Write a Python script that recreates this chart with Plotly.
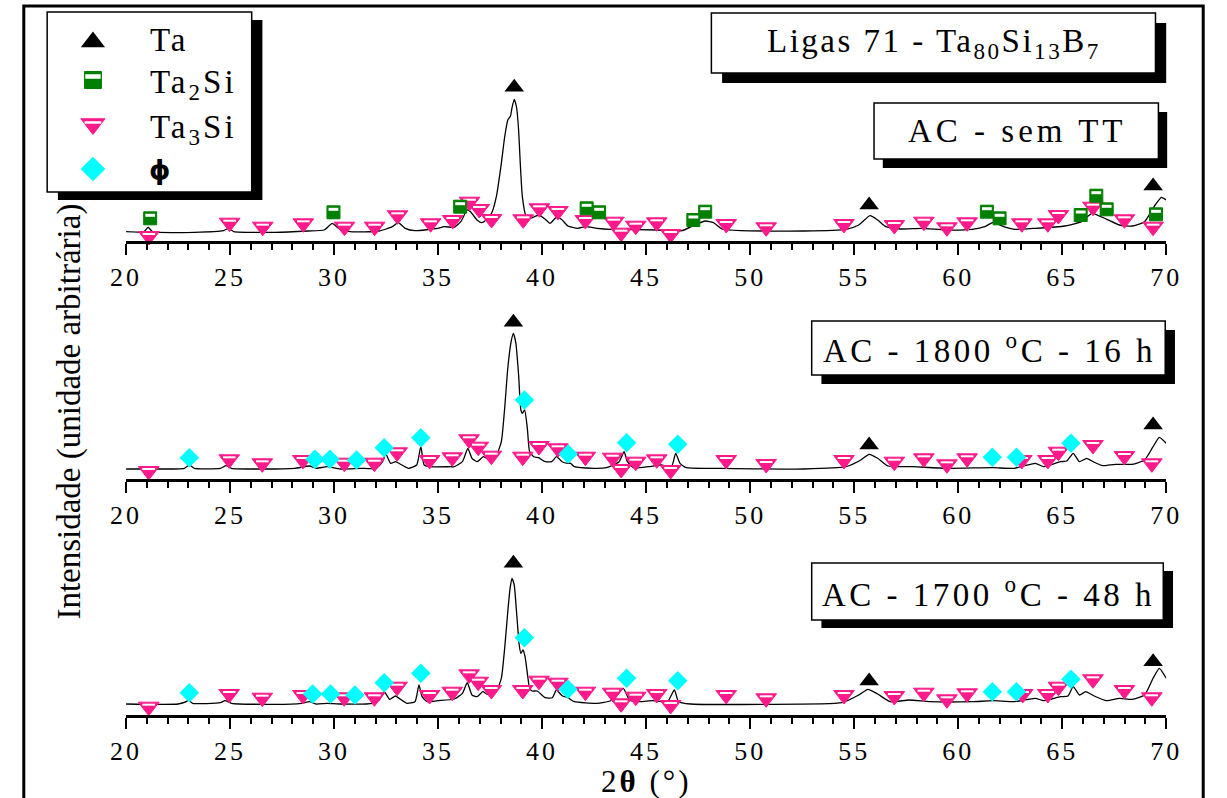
import plotly.graph_objects as go

W, H = 1227, 798

# ---------------- data (2theta in degrees, intensity in arbitrary units) ----------------
x_semTT = [20.0, 20.86, 21.06, 21.28, 23.28, 24.68, 24.92, 25.18, 27.18, 28.74, 29.52, 29.91, 30.22, 30.77,
           32.17, 32.8, 33.08, 33.42, 33.89, 34.98, 35.29, 35.78, 36.09, 36.4, 36.56, 36.87, 37.1, 37.34,
           37.57, 37.8, 38.04, 38.2, 38.35, 38.48, 38.55, 38.66, 38.77, 38.87, 38.95, 39.05, 39.21, 39.44,
           39.84, 40.15, 40.38, 40.69, 40.93, 41.24, 41.71, 42.08, 42.64, 43.27, 43.7, 45.51, 46.73, 47.33,
           47.84, 48.24, 48.65, 49.56, 52.59, 54.61, 55.22, 55.76, 56.13, 56.53, 57.24, 58.25, 59.46, 60.67,
           61.28, 61.68, 62.19, 62.7, 63.71, 65.12, 65.93, 66.44, 67.14, 67.75, 68.36, 68.96, 69.47, 69.77, 70.0]
y_semTT = [9.3, 9.3, 13.7, 9.3, 8.7, 10.3, 12.7, 9.3, 8.7, 10, 11, 17.7, 12.7, 9.3,
           10, 14.3, 18.3, 12.7, 10.3, 12.7, 14.3, 13.7, 19.3, 31, 29.3, 21, 18.3, 21.7,
           27.7, 44.3, 77.7, 104, 121, 125, 133, 141.7, 134, 111, 77.7, 44.3, 26, 22.7,
           26, 21.7, 17.7, 23.7, 21.7, 15, 12.7, 14.3, 12.7, 11.7, 11.7, 11, 10.3, 16,
           20, 18.3, 12, 10.3, 10, 11.7, 16, 25.3, 21, 14.3, 12, 12.7, 11, 11.7,
           14.3, 18.7, 14.3, 11.7, 12.7, 15, 19.3, 27.7, 21.7, 16, 15, 19.3, 36, 43.7, 41]

x_1800 = [20.0, 21.1, 22.8, 23.04, 23.28, 24.53, 24.81, 25.07, 26.4, 28.11, 28.82, 29.13, 29.68, 30.3,
          31.24, 32.02, 32.33, 32.48, 32.72, 32.95, 33.26, 33.58, 33.97, 34.17, 34.33, 34.59, 35.6, 35.78,
          36.17, 36.43, 36.63, 36.87, 37.18, 37.41, 37.8, 38.04, 38.2, 38.35, 38.51, 38.62, 38.74, 38.87,
          38.98, 39.05, 39.16, 39.29, 39.4, 39.6, 39.83, 40.15, 40.46, 40.69, 40.96, 41.24, 41.37, 41.55,
          42.48, 43.09, 43.7, 43.94, 44.1, 44.4, 45.11, 45.72, 46.22, 46.42, 46.63, 46.93, 48.55, 52.59,
          54.61, 55.32, 55.72, 56.13, 56.63, 57.84, 59.46, 61.68, 62.7, 63.71, 64.11, 64.92, 65.22, 65.53,
          65.83, 66.17, 66.54, 66.94, 67.55, 68.36, 68.96, 69.37, 69.67, 70.0]
y_1800 = [10, 10, 10.7, 14, 10.7, 10.7, 13.3, 10.7, 10, 10.7, 13, 10.7, 12.3, 10,
          10.7, 10.7, 17.3, 25, 15.7, 17.3, 14, 10.7, 14, 32.3, 14, 12.3, 12.3, 12.3,
          17.3, 30.7, 20.7, 17.3, 22.3, 20, 24, 37.3, 70.7, 110.7, 137.3, 145.7, 135.7, 104,
          69, 65.7, 69, 50.7, 27.3, 22.3, 21.3, 17.3, 17.3, 22.3, 17.3, 15.7, 15.7, 12.3,
          10.7, 11.3, 17.3, 27.3, 17.3, 11.3, 12.3, 14, 12.3, 25.7, 15.7, 11.3, 10.7, 10,
          12.3, 19, 24.7, 20.7, 13, 12.3, 10.7, 11.3, 10.7, 15.7, 12.3, 17.3, 18, 25.7,
          17.3, 20.7, 16.7, 13.3, 14.7, 14.7, 19, 32.3, 41.7, 35.7]

x_1700 = [20.0, 22.5, 22.89, 23.0, 23.2, 24.53, 24.76, 25.07, 27.18, 28.43, 28.82, 29.13, 29.68, 30.3,
          31.86, 32.17, 32.41, 32.67, 32.95, 33.19, 33.5, 33.89, 34.08, 34.23, 34.48, 34.98, 35.78, 36.17,
          36.4, 36.63, 36.87, 37.15, 37.37, 37.8, 38.04, 38.2, 38.35, 38.46, 38.55, 38.66, 38.77, 38.9,
          38.98, 39.08, 39.18, 39.29, 39.4, 39.52, 39.76, 40.15, 40.49, 40.69, 40.96, 41.24, 41.55, 42.64,
          43.27, 43.49, 43.9, 44.2, 44.7, 45.31, 46.02, 46.36, 46.56, 47.13, 50.57, 54.41, 55.22, 55.66,
          56.13, 56.73, 57.64, 58.65, 60.67, 61.68, 62.7, 63.71, 64.11, 64.92, 65.28, 65.53, 65.83, 66.13,
          66.54, 67.14, 67.75, 68.36, 68.96, 69.37, 69.67, 70.0]
y_1700 = [11, 11, 13.3, 15, 11.7, 12.3, 14.3, 11.7, 10.7, 11.7, 13.3, 11, 11.7, 11,
          11.7, 15, 23.3, 15.7, 19, 15.7, 11.7, 13.3, 30, 18.3, 13.3, 14.3, 16, 21.7,
          32.3, 20, 18.3, 23.3, 20.7, 24, 36.7, 66.7, 103.3, 126.7, 136.7, 130, 103.3, 70,
          61.7, 65, 58.3, 41.7, 26.7, 24, 24, 17.3, 17.3, 25, 19.3, 17.3, 13.3, 11.7,
          14, 16.7, 26.7, 15, 13.3, 14.3, 13.3, 25, 13.3, 11, 10.7, 12.3, 20, 25.7,
          21, 13.3, 15, 13.3, 13.3, 14.3, 13.3, 16.7, 14.3, 18.3, 19, 28.3, 20, 23.3,
          19, 14.3, 16.7, 15.7, 20, 36.7, 46.7, 36.7]

# phase markers ---------------------------------------------------------
ta_x_semTT = [38.66, 55.72, 69.37]
ta_y_semTT = [153.7, 36, 55]
ta2si_x_semTT = [21.16, 29.97, 36.06, 42.14, 42.74, 47.27, 47.84, 61.38, 61.99, 65.89, 66.64, 67.14, 69.51]
ta2si_y_semTT = [22.7, 28.7, 34.3, 32.7, 28.7, 21, 29.3, 29.3, 22.7, 26, 45.3, 31.7, 26.7]
ta3si_x_semTT = [21.1, 24.98, 26.57, 28.52, 30.5, 31.95, 33.05, 34.64, 35.7, 36.51, 36.98, 37.57, 39.09,
                 39.87, 40.76, 42.08, 43.45, 43.8, 44.5, 45.51, 46.18, 48.85, 50.77, 54.51, 56.93, 58.35,
                 59.46, 60.43, 63.06, 64.31, 64.82, 66.48, 67.99, 69.37]
ta3si_y_semTT = [5, 18.3, 14.3, 17.7, 14.3, 14.3, 25.7, 17.7, 21, 39.3, 32, 22, 21.7,
                 32.7, 30, 21, 19.3, 8.3, 15.3, 18.7, 7, 17, 13.7, 17, 16, 19.3,
                 13.7, 18.7, 17.7, 17.7, 26, 34.3, 21.7, 14.3]

ta_x_1800 = [38.62, 55.72, 69.37]
ta_y_1800 = [156.7, 34, 54]
ta3si_x_1800 = [21.09, 24.96, 26.55, 28.5, 30.49, 31.94, 33.03, 34.59, 35.68, 36.49, 36.93, 37.56, 39.07,
                39.85, 40.76, 42.08, 43.39, 43.8, 44.5, 45.51, 46.18, 48.85, 50.77, 54.51, 56.93, 58.35,
                59.46, 60.43, 63.06, 64.31, 64.82, 66.48, 67.99, 69.31]
ta3si_y_1800 = [8, 19.7, 15.7, 19, 16.3, 16.3, 26.7, 19, 21.7, 39.7, 32.3, 23.3, 22.3,
                33, 30.7, 22.3, 21.3, 10, 17.3, 19.7, 9, 19, 15, 19, 17.3, 20.7,
                14.7, 20.7, 19, 19, 27.3, 34, 23, 15.7]
phi_x_1800 = [23.04, 29.08, 29.8, 31.08, 32.41, 34.17, 39.15, 41.25, 44.06, 46.52, 61.64, 62.8, 65.42]
phi_y_1800 = [21.3, 19.7, 19.7, 19, 31.3, 41.3, 79, 25, 36.3, 34.7, 21.7, 21.7, 35.7]

ta_x_1700 = [38.62, 55.72, 69.37]
ta_y_1700 = [151.7, 34, 53.3]
ta3si_x_1700 = [21.09, 24.96, 26.55, 28.5, 30.49, 31.94, 33.03, 34.59, 35.68, 36.49, 36.93, 37.56, 39.07,
                39.85, 40.76, 42.08, 43.39, 43.8, 44.5, 45.51, 46.18, 48.85, 50.77, 54.51, 56.93, 58.35,
                59.46, 60.43, 63.1, 64.31, 64.82, 66.48, 67.99, 69.31]
ta3si_y_1700 = [8.3, 21, 17.3, 20, 17.7, 17.7, 28.3, 20, 23.3, 40.7, 33.3, 25, 25,
                34.3, 32.3, 23.3, 22.3, 11.7, 18.3, 21, 10, 20, 16.7, 20, 19, 22.3,
                15.7, 21.7, 21, 21, 28.3, 35.7, 25, 17.7]
phi_x_1700 = [23.04, 28.97, 29.83, 31.0, 32.41, 34.17, 39.15, 41.24, 44.06, 46.52, 61.64, 62.8, 65.42]
phi_y_1700 = [22.3, 21, 21, 20, 32.3, 41.7, 77.3, 25.7, 36.7, 34.3, 23.3, 23.3, 35.7]

tick_vals = [20, 25, 30, 35, 40, 45, 50, 55, 60, 65, 70]
tick_labels = [str(v) for v in tick_vals]
panel_labels = ["AC - sem TT", "AC - 1800 <sup>o</sup>C - 16 h", "AC - 1700 <sup>o</sup>C - 48 h"]
title_text = "Ligas 71 - Ta<sub>80</sub>Si<sub>13</sub>B<sub>7</sub>"
legend_names = ["Ta", "Ta<sub>2</sub>Si", "Ta<sub>3</sub>Si", "\u03d5"]

# ---------------- styling ----------------
SERIF = "Liberation Serif, Times New Roman, serif"
PINK = "#FF1A8C"
GREEN = "#008000"
CYAN = "#00FFFF"


def fx(px):
    return px / W


def fy(py):
    return 1 - py / H


def spaced(t, s):
    return f"<span style='letter-spacing:{s}px'>{t}</span>"


# panel geometry in pixels: (axis line y, top of panel)
panels = [(241, 80), (479, 315), (715, 550)]
AX_L, AX_R = 113, 1181

fig = go.Figure()

series = [
    (x_semTT, y_semTT, dict(ta=(ta_x_semTT, ta_y_semTT), ta2si=(ta2si_x_semTT, ta2si_y_semTT),
                            ta3si=(ta3si_x_semTT, ta3si_y_semTT))),
    (x_1800, y_1800, dict(ta=(ta_x_1800, ta_y_1800), ta3si=(ta3si_x_1800, ta3si_y_1800),
                          phi=(phi_x_1800, phi_y_1800))),
    (x_1700, y_1700, dict(ta=(ta_x_1700, ta_y_1700), ta3si=(ta3si_x_1700, ta3si_y_1700),
                          phi=(phi_x_1700, phi_y_1700))),
]

for i, (xs, ys, mk) in enumerate(series):
    xa = "x" if i == 0 else f"x{i+1}"
    ya = "y" if i == 0 else f"y{i+1}"
    fig.add_trace(go.Scatter(x=xs, y=ys, mode="lines", xaxis=xa, yaxis=ya, showlegend=False,
                             line=dict(color="black", width=1.3, shape="spline", smoothing=0.5)))
    if "ta3si" in mk:
        mx, my = mk["ta3si"]
        fig.add_trace(go.Scatter(x=mx, y=my, mode="markers", xaxis=xa, yaxis=ya, showlegend=False,
                                 cliponaxis=False,
                                 marker=dict(symbol="triangle-down", size=18, color=PINK,
                                             line=dict(color=PINK, width=1))))
        fig.add_trace(go.Scatter(x=mx, y=[v + 2.0 for v in my], mode="markers", xaxis=xa, yaxis=ya,
                                 showlegend=False, cliponaxis=False,
                                 marker=dict(symbol="line-ew", size=9, line=dict(color="white", width=2))))
    if "ta2si" in mk:
        mx, my = mk["ta2si"]
        fig.add_trace(go.Scatter(x=mx, y=my, mode="markers", xaxis=xa, yaxis=ya, showlegend=False,
                                 cliponaxis=False,
                                 marker=dict(symbol="square", size=13, color=GREEN,
                                             line=dict(color=GREEN, width=1))))
        fig.add_trace(go.Scatter(x=mx, y=[v + 3.0 for v in my], mode="markers", xaxis=xa, yaxis=ya,
                                 showlegend=False, cliponaxis=False,
                                 marker=dict(symbol="line-ew", size=7, line=dict(color="white", width=3))))
    if "phi" in mk:
        mx, my = mk["phi"]
        fig.add_trace(go.Scatter(x=mx, y=my, mode="markers", xaxis=xa, yaxis=ya, showlegend=False,
                                 cliponaxis=False,
                                 marker=dict(symbol="diamond", size=15, color=CYAN, line=dict(width=0))))
    mx, my = mk["ta"]
    fig.add_trace(go.Scatter(x=mx, y=my, mode="markers", xaxis=xa, yaxis=ya, showlegend=False,
                             cliponaxis=False,
                             marker=dict(symbol="triangle-up", size=17, color="black", line=dict(width=0))))

# ---------------- axes ----------------
layout_axes = {}
ticktext = [spaced(t, 3) for t in tick_labels]
for i, (ay, top) in enumerate(panels):
    xk = "xaxis" if i == 0 else f"xaxis{i+1}"
    yk = "yaxis" if i == 0 else f"yaxis{i+1}"
    ya = "y" if i == 0 else f"y{i+1}"
    xa = "x" if i == 0 else f"x{i+1}"
    layout_axes[xk] = dict(domain=[fx(AX_L), fx(AX_R)], range=[20, 70], anchor=ya,
                           showline=True, linecolor="black", linewidth=2.5, mirror=False,
                           ticks="outside", ticklen=11, tickwidth=2, tickcolor="black",
                           tickmode="array", tickvals=tick_vals, ticktext=ticktext,
                           tickfont=dict(family=SERIF, size=26, color="black"),
                           minor=dict(ticks="outside", ticklen=6, tickwidth=2, tickcolor="black",
                                      tickmode="linear", tick0=20, dtick=1),
                           showgrid=False, zeroline=False, fixedrange=True)
    layout_axes[yk] = dict(domain=[fy(ay), fy(top)], range=[0, ay - top], anchor=xa,
                           visible=False, fixedrange=True)

# overlay axis in pixel space for the legend swatches
layout_axes["xaxis4"] = dict(domain=[0, 1], range=[0, W], anchor="y4", visible=False, fixedrange=True)
layout_axes["yaxis4"] = dict(domain=[0, 1], range=[H, 0], anchor="x4", visible=False, fixedrange=True)

# legend swatches
leg_rows = [40, 80, 126, 169]
LEG_MX = 79
fig.add_trace(go.Scatter(x=[LEG_MX], y=[leg_rows[0] + 2], mode="markers", xaxis="x4", yaxis="y4",
                         showlegend=False, marker=dict(symbol="triangle-up", size=21, color="black")))
fig.add_trace(go.Scatter(x=[LEG_MX], y=[leg_rows[1]], mode="markers", xaxis="x4", yaxis="y4",
                         showlegend=False, marker=dict(symbol="square", size=17, color=GREEN,
                                                       line=dict(color=GREEN, width=1))))
fig.add_trace(go.Scatter(x=[LEG_MX], y=[leg_rows[1] - 3.5], mode="markers", xaxis="x4", yaxis="y4",
                         showlegend=False, marker=dict(symbol="line-ew", size=11,
                                                       line=dict(color="white", width=4.5))))
fig.add_trace(go.Scatter(x=[LEG_MX], y=[leg_rows[2] - 2], mode="markers", xaxis="x4", yaxis="y4",
                         showlegend=False, marker=dict(symbol="triangle-down", size=21, color=PINK,
                                                       line=dict(color=PINK, width=1))))
fig.add_trace(go.Scatter(x=[LEG_MX], y=[leg_rows[2] - 3.5], mode="markers", xaxis="x4", yaxis="y4",
                         showlegend=False, marker=dict(symbol="line-ew", size=12,
                                                       line=dict(color="white", width=2.5))))
fig.add_trace(go.Scatter(x=[LEG_MX], y=[leg_rows[3]], mode="markers", xaxis="x4", yaxis="y4",
                         showlegend=False, marker=dict(symbol="diamond", size=19, color=CYAN,
                                                       line=dict(width=0))))

# ---------------- shapes (frame, boxes, shadows) ----------------
shapes = []


def box_with_shadow(x0, y0, x1, y1, off_x, off_y):
    shapes.append(dict(type="rect", xref="paper", yref="paper", layer="below",
                       x0=fx(x0 + off_x), x1=fx(x1 + off_x), y0=fy(y1 + off_y), y1=fy(y0 + off_y),
                       fillcolor="black", line=dict(width=0)))
    shapes.append(dict(type="rect", xref="paper", yref="paper", layer="below",
                       x0=fx(x0), x1=fx(x1), y0=fy(y1), y1=fy(y0),
                       fillcolor="white", line=dict(color="black", width=1.5)))


# outer frame
shapes.append(dict(type="rect", xref="paper", yref="paper", layer="below",
                   x0=fx(8), x1=fx(1219), y0=fy(812), y1=fy(6),
                   fillcolor="rgba(0,0,0,0)", line=dict(color="black", width=3)))

# legend box
box_with_shadow(32, 12, 242, 192, 11, 8)

annotations = []
label_boxes = [
    (title_text, (714, 13, 1170, 73), (11, 10), 2.5),
    (panel_labels[0], (881, 103, 1173, 159), (9, 9), 4),
    (panel_labels[1], (817, 321, 1180, 375), (10, 9), 3.5),
    (panel_labels[2], (817, 563, 1178, 620), (10, 8), 3.5),
]
for txt, (x0, y0, x1, y1), (ox, oy), ls in label_boxes:
    box_with_shadow(x0, y0, x1, y1, ox, oy)
    annotations.append(dict(text=spaced(txt, ls), xref="paper", yref="paper",
                            x=fx((x0 + x1) / 2 + 1), y=fy((y0 + y1) / 2), xanchor="center", yanchor="middle",
                            showarrow=False, font=dict(family=SERIF, size=33, color="black")))

# legend labels
for j, name in enumerate(legend_names):
    if j < 3:
        annotations.append(dict(text=spaced(name, 3), xref="paper", yref="paper",
                                x=fx(136), y=fy(leg_rows[j] + (4 if j > 0 else 0)),
                                xanchor="left", yanchor="middle", showarrow=False,
                                font=dict(family=SERIF, size=33, color="black")))
    else:
        annotations.append(dict(text=f"<b>{name}</b>", xref="paper", yref="paper",
                                x=fx(135), y=fy(leg_rows[j] + 1), xanchor="left", yanchor="middle",
                                showarrow=False,
                                font=dict(family="DejaVu Sans, sans-serif", size=27, color="black")))

# axis titles
annotations.append(dict(text="Intensidade (unidade arbitrária)", xref="paper", yref="paper",
                        x=fx(54), y=fy(412), xanchor="center", yanchor="middle", textangle=-90,
                        showarrow=False, font=dict(family=SERIF, size=33, color="black")))
annotations.append(dict(text=spaced("2<b>\u03b8</b> (\u00b0)", 3), xref="paper", yref="paper",
                        x=fx(647), y=fy(781), xanchor="center", yanchor="middle",
                        showarrow=False, font=dict(family=SERIF, size=31, color="black")))

fig.update_layout(width=W, height=H, margin=dict(l=0, r=0, t=0, b=0),
                  paper_bgcolor="white", plot_bgcolor="rgba(0,0,0,0)",
                  showlegend=False, shapes=shapes, annotations=annotations, **layout_axes)

fig.write_html("out.html")
